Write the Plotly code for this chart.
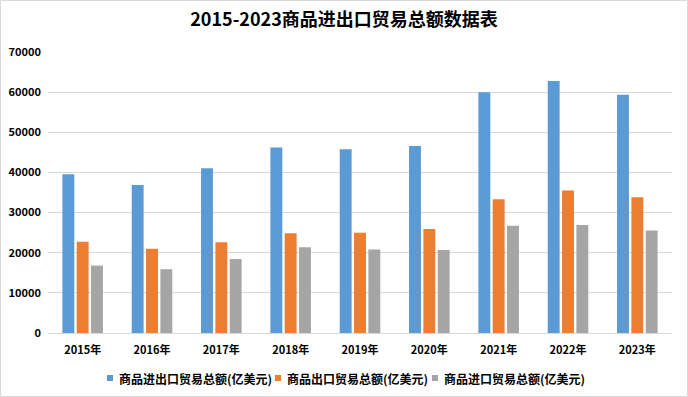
import plotly.graph_objects as go

years = ["2015年", "2016年", "2017年", "2018年", "2019年", "2020年", "2021年", "2022年", "2023年"]
total = [39530, 36856, 41045, 46224, 45779, 46559, 60000, 62800, 59360]
export = [22735, 20976, 22635, 24867, 24995, 25900, 33300, 35500, 33800]
imports = [16796, 15879, 18410, 21357, 20784, 20660, 26700, 26900, 25560]
names = ["商品进出口贸易总额(亿美元)", "商品出口贸易总额(亿美元)", "商品进口贸易总额(亿美元)"]
colors = ["#5b9bd5", "#ed7d31", "#a5a5a5"]

font = "Noto Sans CJK SC"
fig = go.Figure()
for vals, nm, c in zip([total, export, imports], names, colors):
    fig.add_trace(go.Bar(x=years, y=vals, name=nm, marker=dict(color=c, line=dict(width=0)),
                         showlegend=False))

W, H = 688, 397
ml, mr, mt, mb = 48, 16, 52, 64
pw, ph = W - ml - mr, H - mt - mb


def px(x):
    return (x - ml) / pw


def py(y):
    return (H - mb - y) / ph


shapes = [dict(type="rect", xref="paper", yref="paper",
               x0=px(0.5), x1=px(W - 0.5), y0=py(H - 0.5), y1=py(0.5),
               line=dict(color="#d9d9d9", width=1), fillcolor="rgba(0,0,0,0)", layer="below")]
annotations = []
# legend (custom, compact like the reference)
marker_x = [107, 275, 432]
legend_y = 378
for mx, nm, c in zip(marker_x, names, colors):
    shapes.append(dict(type="rect", xref="paper", yref="paper",
                       x0=px(mx), x1=px(mx + 6), y0=py(legend_y + 3), y1=py(legend_y - 3),
                       line=dict(width=0), fillcolor=c))
    annotations.append(dict(text=nm, xref="paper", yref="paper", x=px(mx + 10), y=py(legend_y),
                            xanchor="left", yanchor="middle", showarrow=False,
                            font=dict(family=font, size=12, color="#000", weight="bold")))

fig.update_layout(
    width=W, height=H,
    margin=dict(l=ml, r=mr, t=mt, b=mb, autoexpand=False),
    paper_bgcolor="white", plot_bgcolor="white",
    barmode="group", bargap=0.38, bargroupgap=0.17,
    title=dict(text="<b>2015-2023商品进出口贸易总额数据表</b>", x=0.5, xanchor="center",
               y=1 - 20 / H, yanchor="middle", font=dict(family=font, size=18, color="#000")),
    font=dict(family=font, color="#000"),
    xaxis=dict(tickfont=dict(size=11, color="#000", weight="bold"), showline=True,
               linecolor="#d9d9d9", ticks="", showgrid=False, automargin=False,
               ticklabelstandoff=7),
    yaxis=dict(range=[0, 70000], dtick=10000, tickfont=dict(size=11, color="#000", weight="bold"),
               gridcolor="#d9d9d9", zeroline=False, ticks="", tickformat="d",
               ticklabelstandoff=6, automargin=False),
    showlegend=False,
    shapes=shapes,
    annotations=annotations,
)
fig.write_html("out.html", config={"displayModeBar": False},
               post_script="document.body.style.margin='0';document.body.style.overflow='hidden';")
